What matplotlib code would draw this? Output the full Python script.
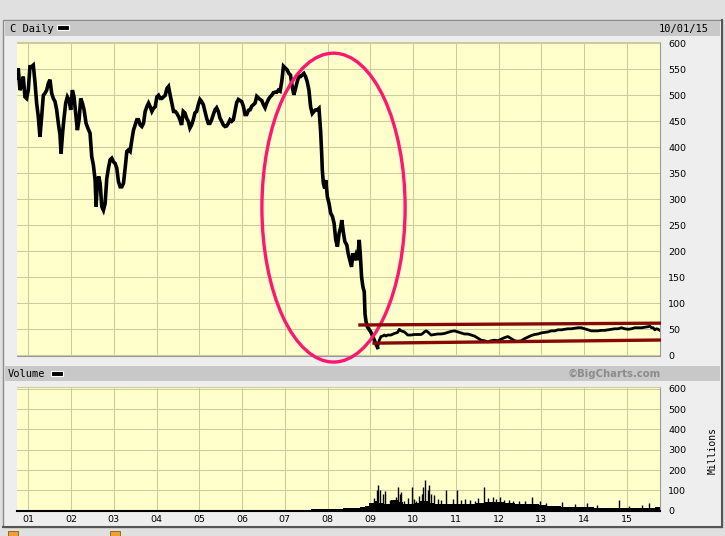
import matplotlib
matplotlib.use("Agg")
import matplotlib.pyplot as plt
from matplotlib.patches import Rectangle, Ellipse

W, H = 725, 536

# --- price (split adjusted), year fraction / value ---
price_years = [
    2000.742, 2000.766, 2000.805, 2000.844, 2000.883, 2000.922, 2000.961, 2001.0,
    2001.039, 2001.078, 2001.117, 2001.156, 2001.195, 2001.234, 2001.273, 2001.313,
    2001.352, 2001.391, 2001.430, 2001.469, 2001.508, 2001.547, 2001.586, 2001.625,
    2001.664, 2001.703, 2001.742, 2001.766, 2001.805, 2001.836, 2001.875, 2001.914,
    2001.953, 2001.992, 2002.031, 2002.070, 2002.109, 2002.148, 2002.188, 2002.227,
    2002.266, 2002.305, 2002.352, 2002.398, 2002.445, 2002.484, 2002.523, 2002.563,
    2002.586, 2002.617, 2002.648, 2002.680, 2002.719, 2002.758, 2002.797, 2002.836,
    2002.875, 2002.914, 2002.953, 2002.992, 2003.031, 2003.070, 2003.109, 2003.148,
    2003.188, 2003.227, 2003.266, 2003.305, 2003.344, 2003.383, 2003.422, 2003.461,
    2003.500, 2003.539, 2003.578, 2003.617, 2003.656, 2003.695, 2003.734, 2003.773,
    2003.813, 2003.852, 2003.891, 2003.930, 2003.969, 2004.008, 2004.047, 2004.086,
    2004.125, 2004.164, 2004.203, 2004.242, 2004.281, 2004.320, 2004.359, 2004.398,
    2004.438, 2004.477, 2004.516, 2004.547, 2004.586, 2004.625, 2004.664, 2004.703,
    2004.742, 2004.781, 2004.820, 2004.859, 2004.898, 2004.938, 2004.977, 2005.016,
    2005.055, 2005.094, 2005.133, 2005.172, 2005.211, 2005.250, 2005.289, 2005.328,
    2005.367, 2005.406, 2005.445, 2005.484, 2005.523, 2005.563, 2005.602, 2005.641,
    2005.680, 2005.719, 2005.758, 2005.797, 2005.836, 2005.875, 2005.914, 2005.953,
    2005.992, 2006.031, 2006.070, 2006.109, 2006.148, 2006.188, 2006.227, 2006.266,
    2006.305, 2006.344, 2006.383, 2006.422, 2006.461, 2006.500, 2006.539, 2006.578,
    2006.617, 2006.656, 2006.695, 2006.734, 2006.773, 2006.813, 2006.852, 2006.891,
    2006.930, 2006.969, 2007.016, 2007.055, 2007.094, 2007.133, 2007.173, 2007.212,
    2007.251, 2007.290, 2007.329, 2007.369, 2007.408, 2007.447, 2007.486, 2007.525,
    2007.565, 2007.604, 2007.643, 2007.682, 2007.722, 2007.761, 2007.800, 2007.839,
    2007.863, 2007.878, 2007.902, 2007.933, 2007.957, 2007.996, 2008.035, 2008.075,
    2008.114, 2008.153, 2008.192, 2008.231, 2008.271, 2008.310, 2008.333, 2008.373,
    2008.404, 2008.451, 2008.482, 2008.522, 2008.561, 2008.592, 2008.624, 2008.663,
    2008.702, 2008.741, 2008.765, 2008.796, 2008.827, 2008.859, 2008.876, 2008.90,
    2008.93, 2008.97, 2009.01, 2009.05, 2009.09, 2009.13, 2009.17, 2009.211,
    2009.25, 2009.289, 2009.328, 2009.367, 2009.406, 2009.484, 2009.563, 2009.641,
    2009.680, 2009.719, 2009.797, 2009.875, 2009.953, 2010.031, 2010.109, 2010.188,
    2010.227, 2010.266, 2010.305, 2010.344, 2010.383, 2010.422, 2010.5, 2010.578,
    2010.656, 2010.734, 2010.813, 2010.891, 2010.969, 2011.047, 2011.125, 2011.203,
    2011.281, 2011.359, 2011.438, 2011.516, 2011.594, 2011.672, 2011.75, 2011.828,
    2011.906, 2011.984, 2012.063, 2012.141, 2012.219, 2012.297, 2012.375, 2012.453,
    2012.531, 2012.609, 2012.688, 2012.766, 2012.844, 2012.922, 2013.0, 2013.078,
    2013.156, 2013.234, 2013.313, 2013.391, 2013.469, 2013.547, 2013.625, 2013.703,
    2013.781, 2013.859, 2013.938, 2014.016, 2014.094, 2014.172, 2014.25, 2014.328,
    2014.406, 2014.484, 2014.563, 2014.641, 2014.719, 2014.797, 2014.875, 2014.953,
    2015.031, 2015.109, 2015.188, 2015.266, 2015.344, 2015.422, 2015.5, 2015.539,
    2015.578, 2015.617, 2015.656, 2015.695, 2015.734, 2015.773,
]
price_vals = [
    533, 552, 510, 517, 536, 497, 494, 510,
    555, 555, 558, 526, 485, 459, 420, 459,
    500, 504, 510, 523, 530, 504, 494, 488,
    472, 446, 424, 388, 430, 456, 485, 497,
    491, 472, 510, 497, 465, 433, 453, 494,
    485, 472, 446, 436, 427, 382, 366, 337,
    286, 334, 344, 331, 286, 279, 292, 340,
    360, 376, 379, 372, 369, 360, 334, 324,
    324, 331, 360, 392, 395, 392, 414, 433,
    443, 453, 453, 443, 440, 446, 469, 478,
    485, 478, 469, 475, 478, 497, 500, 494,
    494, 497, 500, 513, 517, 500, 485, 469,
    469, 465, 459, 453, 443, 469, 466, 456,
    450, 437, 443, 453, 466, 469, 482, 492,
    488, 482, 469, 456, 446, 446, 453, 463,
    472, 476, 469, 456, 450, 443, 440, 441,
    446, 453, 450, 453, 469, 486, 492, 490,
    488, 479, 463, 463, 471, 472, 479, 482,
    485, 498, 495, 492, 490, 482, 476, 485,
    492, 497, 500, 505, 506, 506, 510, 508,
    527, 556, 552, 549, 542, 539, 517, 501,
    513, 526, 537, 536, 539, 542, 536, 526,
    510, 478, 465, 469, 472, 472, 475, 430,
    388, 356, 331, 321, 337, 305, 292, 273,
    267, 254, 222, 209, 235, 247, 260, 235,
    219, 212, 196, 183, 170, 196, 183, 193,
    183, 222, 196, 151, 132, 122, 80, 65,
    55, 50, 45, 38, 30, 22, 15, 29,
    36, 37, 39, 37, 39, 39, 42, 44,
    50, 47, 45, 39, 39, 40, 40, 40,
    42, 45, 47, 45, 42, 39, 40, 41,
    41, 42, 44, 46, 47, 45, 43, 41,
    41, 39, 37, 33, 29, 28, 26, 28,
    29, 28, 31, 34, 36, 32, 28, 27,
    28, 32, 35, 38, 40, 41, 43, 44,
    45, 47, 47, 49, 49, 50, 51, 51,
    52, 53, 53, 51, 49, 47, 47, 47,
    48, 48, 49, 50, 51, 51, 53, 51,
    50, 51, 53, 53, 53, 54, 55, 56,
    53, 53, 49, 51, 50, 48,
]

# --- volume (millions): base level and single-day spikes ---
vol_years = [2000.74, 2007.0, 2007.37, 2007.84, 2008.0, 2008.71, 2008.82, 2008.94,
             2009.02, 2009.14, 2009.25, 2009.41, 2009.57, 2009.73, 2009.80, 2009.96,
             2010.12, 2010.20, 2010.35, 2010.43, 2010.59, 2010.82, 2011.06, 2011.29,
             2011.61, 2011.76, 2012.0, 2012.24, 2012.55, 2012.86, 2013.02, 2013.25,
             2013.65, 2014.04, 2014.43, 2014.82, 2015.22, 2015.53, 2015.77]
vol_base = [1, 2, 5, 10, 10, 12, 20, 25,
            40, 50, 40, 33, 55, 45, 33, 35,
            38, 50, 50, 40, 33, 33, 35, 35,
            38, 45, 45, 38, 35, 35, 30, 22,
            20, 18, 15, 13, 12, 14, 16]

spike_years = [2009.16, 2009.19, 2009.22, 2009.29, 2009.35, 2009.61, 2009.65, 2009.69,
               2009.73, 2009.80, 2009.98, 2010.08, 2010.20, 2010.24, 2010.29, 2010.34,
               2010.38, 2010.43, 2010.49, 2010.59, 2010.78, 2010.94, 2011.04, 2011.22,
               2011.33, 2011.45, 2011.65, 2011.76, 2011.88, 2012.04, 2012.24, 2012.47,
               2012.78, 2012.98, 2013.49, 2014.08, 2014.81, 2015.06, 2015.53,
               2009.09, 2009.45, 2009.88, 2010.02, 2010.14, 2010.66, 2011.12, 2011.52,
               2011.95, 2012.12, 2012.35, 2012.62, 2013.12, 2013.80, 2014.30, 2015.35]
spike_vals = [100, 125, 103, 83, 97, 67, 117, 83,
              92, 50, 117, 50, 83, 117, 153, 100,
              125, 83, 75, 58, 100, 58, 103, 58,
              53, 50, 117, 63, 67, 67, 53, 50,
              67, 50, 42, 37, 53, 25, 37,
              60, 55, 62, 58, 70, 52, 55, 60,
              58, 52, 48, 50, 40, 33, 30, 28]

price_ticks = [0, 50, 100, 150, 200, 250, 300, 350, 400, 450, 500, 550, 600]
vol_ticks = [0, 100, 200, 300, 400, 500, 600]
year_ticks = list(range(2001, 2016))
year_labels = ["%02d" % (y % 100) for y in year_ticks]

# annotations drawn on the chart
ellipse_center = (2008.14, 284)
ellipse_size = (3.35, 594)
channel_top = ([2008.72, 2015.80], [58.3, 61.8])
channel_bottom = ([2009.05, 2015.80], [23.3, 29.4])

XLIM = (2000.736, 2015.777)
PANEL_BG = "#ffffcc"
GRID = "#cccc99"
SPLIT_YEAR = 2009.2   # the pre-crash bars are drawn heavier


def px_rect(x0, y0, x1, y1):
    return [x0 / W, 1 - y1 / H, (x1 - x0) / W, (y1 - y0) / H]


def fx(x):
    return x / W


def fy(y):
    return 1 - y / H


fig = plt.figure(figsize=(W / 100, H / 100), dpi=100, facecolor="#e0e0e0")

# outer frame and header bars
fig.add_artist(Rectangle((fx(3), fy(527)), (722 - 3) / W, (527 - 20) / H,
                         transform=fig.transFigure, facecolor="#eeeeee",
                         edgecolor="#8a8a8a", lw=1, zorder=-5))
fig.add_artist(plt.Line2D([fx(722), fx(722)], [fy(20), fy(527)], transform=fig.transFigure,
                          color="#555555", lw=1.5, zorder=-4))
fig.add_artist(plt.Line2D([fx(3), fx(722)], [fy(527), fy(527)], transform=fig.transFigure,
                          color="#555555", lw=1.5, zorder=-4))
for y0, y1 in [(21, 36), (366, 381)]:
    fig.add_artist(Rectangle((fx(5), fy(y1)), (720 - 5) / W, (y1 - y0) / H,
                             transform=fig.transFigure, facecolor="#c8c8c8",
                             edgecolor="none", zorder=-4))

mono = "DejaVu Sans Mono"
fig.text(fx(10), fy(28.5), "C Daily", family=mono, fontsize=7.5, va="center", ha="left")
fig.text(fx(709), fy(28.5), "10/01/15", family=mono, fontsize=7.5, va="center", ha="right")
fig.text(fx(8), fy(374), "Volume", family=mono, fontsize=7.5, va="center", ha="left")
fig.text(fx(661), fy(374), "\u00a9BigCharts.com", fontsize=7.3, fontweight="bold",
         color="#8c8c8c", va="center", ha="right")
fig.text(fx(713), fy(451), "Millions", family=mono, fontsize=7, rotation=90,
         va="center", ha="center")
for x0, x1, y0, y1 in [(57, 69, 25.5, 30), (51, 63, 371, 376)]:
    fig.add_artist(Rectangle((fx(x0), fy(y1)), (x1 - x0) / W, (y1 - y0) / H,
                             transform=fig.transFigure, facecolor="black",
                             edgecolor="white", lw=0.8, zorder=3))
for x0 in [8, 110]:
    fig.add_artist(Rectangle((fx(x0), fy(537)), 10 / W, 6 / H, transform=fig.transFigure,
                             facecolor="#f0a030", edgecolor="#8a5a10", lw=0.6, zorder=3))


def style_axes(ax, ticks):
    ax.set_facecolor(PANEL_BG)
    ax.set_xlim(*XLIM)
    ax.set_xticks(year_ticks)
    ax.set_yticks(ticks)
    ax.grid(True, color=GRID, lw=0.75)
    ax.set_axisbelow(True)
    ax.yaxis.tick_right()
    ax.tick_params(axis="y", length=0, pad=6, labelsize=6.8)
    ax.tick_params(axis="x", length=0)
    ax.spines["left"].set_visible(False)
    ax.spines["top"].set_color(GRID)
    ax.spines["right"].set_color("#999999")
    ax.spines["bottom"].set_color("#999999")


# price panel
ax1 = fig.add_axes(px_rect(17, 42, 660, 356))
style_axes(ax1, price_ticks)
ax1.set_ylim(-1.35, 602.5)
ax1.set_xticklabels([])
k = sum(1 for y in price_years if y <= SPLIT_YEAR)
ax1.plot(price_years[:k], price_vals[:k], color="black", lw=2.6, solid_joinstyle="miter")
ax1.plot(price_years[k - 1:], price_vals[k - 1:], color="black", lw=2.0)
ax1.add_patch(Ellipse(ellipse_center, ellipse_size[0], ellipse_size[1], fill=False,
                      edgecolor="#ff1670", lw=2.4, clip_on=False, zorder=5))
for xs, ys in [channel_top, channel_bottom]:
    ax1.plot(xs, ys, color="#880808", lw=2.4, clip_on=False, zorder=6,
             solid_capstyle="butt")

# volume panel
ax2 = fig.add_axes(px_rect(17, 387, 660, 511))
style_axes(ax2, vol_ticks)
ax2.set_ylim(-1.5, 608.4)
ax2.spines["bottom"].set_color("black")
ax2.spines["bottom"].set_linewidth(1.5)
ax2.set_xticklabels(year_labels)
ax2.tick_params(axis="x", pad=3, labelsize=6.8)
ax2.fill_between(vol_years, vol_base, 0, step="mid", color="black", lw=0)
ax2.vlines(spike_years, 0, spike_vals, color="black", lw=1.0)

fig.savefig("out.png", dpi=100, facecolor=fig.get_facecolor())
